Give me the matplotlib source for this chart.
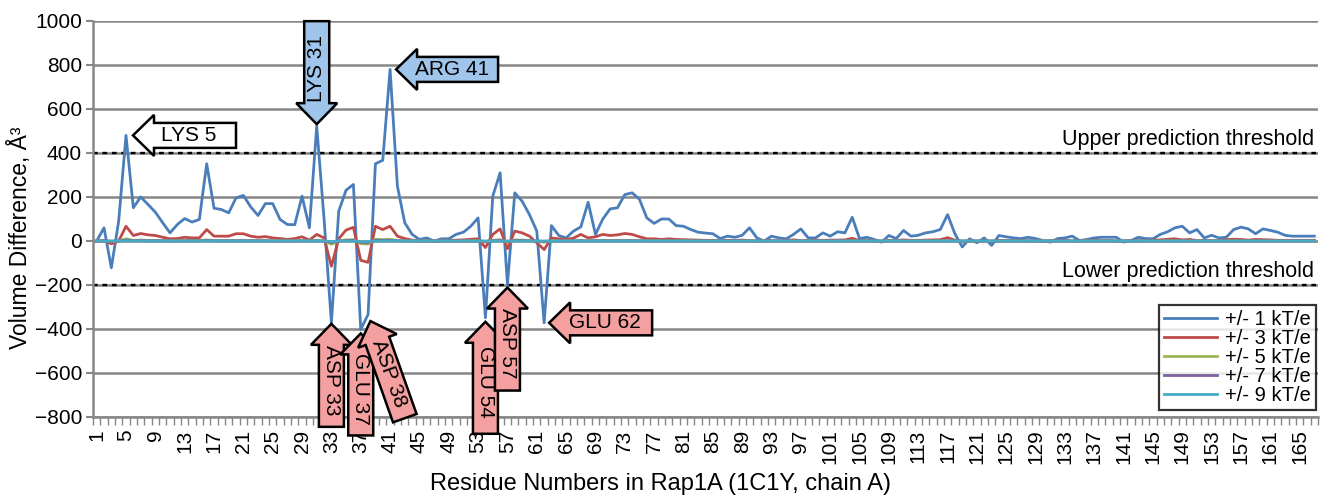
import numpy as np
import matplotlib
matplotlib.use("Agg")
import matplotlib.pyplot as plt
import matplotlib.transforms as mtransforms
from matplotlib.patches import Polygon

plt.rcParams['font.family'] = ['Liberation Sans', 'DejaVu Sans']

# residues 1..167
residues = np.arange(1, 168)

# volume differences (A^3) per residue, one series per potential threshold
kt1 = [0, 60, -122, 90, 480, 151, 200, 166, 131, 83, 37, 75, 102, 86, 98, 351, 149, 143, 128, 196,
       207, 155, 116, 170, 170, 98, 75, 74, 204, 60, 522, 100, -372, 136, 231, 257, -402, -334, 351, 367,
       780, 249, 83, 30, 7, 14, 0, 10, 10, 30, 40, 67, 105, -349, 204, 310, -198, 219, 181, 120,
       45, -372, 70, 25, 14, 45, 64, 176, 30, 100, 146, 151, 211, 219, 189, 105, 80, 100, 100, 70,
       67, 52, 40, 36, 33, 11, 22, 17, 26, 60, 14, 0, 22, 14, 10, 30, 55, 14, 14, 37,
       22, 42, 37, 108, 11, 17, 7, -5, 25, 11, 48, 22, 26, 37, 42, 52, 120, 33, -27, 10,
       -8, 14, -20, 25, 19, 14, 11, 17, 11, 2, -5, 11, 14, 22, 2, 7, 14, 17, 17, 17,
       -5, 2, 17, 11, 10, 30, 42, 60, 67, 37, 52, 14, 26, 14, 17, 52, 63, 55, 33, 55,
       48, 40, 26, 22, 22, 22, 22]
kt3 = [0, 2, -13, 0, 67, 25, 34, 28, 25, 17, 10, 11, 17, 14, 14, 52, 22, 22, 22, 33,
       33, 22, 17, 20, 14, 11, 7, 11, 19, 4, 30, 14, -115, 10, 50, 62, -88, -97, 67, 52,
       67, 22, 11, 4, 0, 2, -3, 2, 2, 4, 5, 8, 10, -30, 30, 55, -35, 45, 37, 22,
       -8, -39, 14, 10, 7, 13, 30, 14, 19, 30, 25, 28, 34, 30, 19, 10, 10, 7, 10, 7,
       6, 5, 4, 3, 3, 2, 3, 3, 4, 2, 0, 2, 2, 1, 3, 5, 2, 2, 4, 3,
       4, 4, 5, 12, 2, 2, 0, -2, 3, 2, 5, 3, 3, 4, 5, 6, 15, 4, -4, 1,
       -2, 2, -3, 3, 2, 2, 2, 1, 0, -1, 1, 2, 3, 0, 1, 2, 2, 2, 2, -1,
       0, 2, 1, 1, 4, 5, 8, 10, 5, 7, 2, 3, 2, 2, 6, 8, 7, 4, 7, 6,
       5, 3, 3, 3, 3, 3, 3]
kt5 = [0, 0, -2, 0, 10, 3, 4, 3, 3, 2, 1, 1, 2, 2, 2, 5, 2, 2, 2, 3,
       3, 2, 2, 2, 1, 1, 1, 1, 2, 0, 3, 1, -15, 1, 5, 6, -12, -14, 8, 6,
       8, 2, 1, 0, 0, 0, 0, 0, 0, 0, 0, 1, 1, -4, 3, 6, -5, 5, 4, 2,
       -1, -5, 1, 1, 1, 1, 3, 1, 2, 3, 2, 3, 3, 3, 2, 1, 1, 1, 1, 1,
       1, 0, 0, 0, 0, 0, 0, 0, 0, 0, 0, 0, 0, 0, 0, 0, 0, 0, 0, 0,
       0, 0, 0, 1, 0, 0, 0, 0, 0, 0, 0, 0, 0, 0, 0, 0, 1, 0, 0, 0,
       0, 0, 0, 0, 0, 0, 0, 0, 0, 0, 0, 0, 0, 0, 0, 0, 0, 0, 0, 0,
       0, 0, 0, 0, 0, 0, 1, 1, 0, 0, 0, 0, 0, 0, 0, 1, 0, 0, 0, 0,
       0, 0, 0, 0, 0, 0, 0]
kt7 = [0, 0, -1, 0, 4, 1, 2, 1, 1, 1, 0, 0, 1, 1, 1, 2, 1, 1, 1, 1,
       1, 1, 1, 1, 0, 0, 0, 0, 1, 0, 1, 0, -7, 0, 2, 3, -6, -7, 3, 3,
       3, 1, 0, 0, 0, 0, 0, 0, 0, 0, 0, 0, 0, -2, 1, 3, -2, 2, 2, 1,
       0, -2, 0, 0, 0, 0, 1, 0, 1, 1, 1, 1, 1, 1, 1, 0, 0, 0, 0, 0,
       0, 0, 0, 0, 0, 0, 0, 0, 0, 0, 0, 0, 0, 0, 0, 0, 0, 0, 0, 0,
       0, 0, 0, 0, 0, 0, 0, 0, 0, 0, 0, 0, 0, 0, 0, 0, 0, 0, 0, 0,
       0, 0, 0, 0, 0, 0, 0, 0, 0, 0, 0, 0, 0, 0, 0, 0, 0, 0, 0, 0,
       0, 0, 0, 0, 0, 0, 0, 0, 0, 0, 0, 0, 0, 0, 0, 0, 0, 0, 0, 0,
       0, 0, 0, 0, 0, 0, 0]
kt9 = [0, 0, 0, 0, 1, 0, 0, 0, 0, 0, 0, 0, 0, 0, 0, 0, 0, 0, 0, 0,
       0, 0, 0, 0, 0, 0, 0, 0, 0, 0, 0, 0, -3, 0, 0, 0, -3, -3, 0, 0,
       1, 0, 0, 0, 0, 0, 0, 0, 0, 0, 0, 0, 0, 0, 0, 0, 0, 0, 0, 0,
       0, 0, 0, 0, 0, 0, 0, 0, 0, 0, 0, 0, 0, 0, 0, 0, 0, 0, 0, 0,
       0, 0, 0, 0, 0, 0, 0, 0, 0, 0, 0, 0, 0, 0, 0, 0, 0, 0, 0, 0,
       0, 0, 0, 0, 0, 0, 0, 0, 0, 0, 0, 0, 0, 0, 0, 0, 0, 0, 0, 0,
       0, 0, 0, 0, 0, 0, 0, 0, 0, 0, 0, 0, 0, 0, 0, 0, 0, 0, 0, 0,
       0, 0, 0, 0, 0, 0, 0, 0, 0, 0, 0, 0, 0, 0, 0, 0, 0, 0, 0, 0,
       0, 0, 0, 0, 0, 0, 0]

series_labels = ['+/- 1 kT/e', '+/- 3 kT/e', '+/- 5 kT/e', '+/- 7 kT/e', '+/- 9 kT/e']
series_colors = ['#4A7EBB', '#BE4B48', '#98B954', '#7D60A0', '#46AAC5']

upper_threshold = 400
lower_threshold = -200

# callouts: (residue, label, direction angle, colour, length px, gap px)
callouts = [
    (5, 'LYS 5', 0, 'white', 103, 7),
    (31, 'LYS 31', 90, '#9FC5EA', 103, 2),
    (41, 'ARG 41', 0, '#9FC5EA', 102, 6),
    (33, 'ASP 33', -90, '#F4A0A0', 103, 1),
    (37, 'GLU 37', -90, '#F4A0A0', 102, 4),
    (38, 'ASP 38', -70.5, '#F4A0A0', 103, 7),
    (54, 'GLU 54', -90, '#F4A0A0', 112, 4),
    (57, 'ASP 57', -90, '#F4A0A0', 103, 3),
    (62, 'GLU 62', 0, '#F4A0A0', 103, 5),
]

W, H = 1324, 497
fig = plt.figure(figsize=(W / 100, H / 100), dpi=100)
ax = fig.add_axes([93 / W, 1 - 417 / H, (1318 - 93) / W, (417 - 21) / H])

gridc = '#878787'
for vals, lab, col in zip([kt1, kt3, kt5, kt7, kt9], series_labels, series_colors):
    ax.plot(residues, vals, color=col, lw=2.0, label=lab, zorder=3)

ax.axhline(upper_threshold, color='black', lw=1.7, ls=(0, (2, 2)), zorder=2.5)
ax.axhline(lower_threshold, color='black', lw=1.7, ls=(0, (2, 2)), zorder=2.5)
tr = mtransforms.blended_transform_factory(ax.transAxes, ax.transData)
ax.text(0.9965, upper_threshold + 12, 'Upper prediction threshold', transform=tr,
        ha='right', va='bottom', fontsize=15.5)
ax.text(0.9965, lower_threshold + 12, 'Lower prediction threshold', transform=tr,
        ha='right', va='bottom', fontsize=15.5)

ax.set_xlim(0.5, 167.5)
ax.set_ylim(-800, 1000)
ax.set_yticks(np.arange(-800, 1001, 200))
ax.yaxis.grid(True, color=gridc, lw=1.8)
ax.set_axisbelow(True)
ax.set_xticks(residues[::4])
ax.set_xticklabels([str(r) for r in residues[::4]], rotation=90)
ax.set_xticks(np.arange(0.5, 168, 1), minor=True)
ax.tick_params(axis='x', which='major', length=0, pad=9, labelsize=15)
ax.tick_params(axis='x', which='minor', length=6, color=gridc, width=1)
ax.tick_params(axis='y', length=5, color=gridc, width=1.5, pad=3, labelsize=15)
for s in ['top', 'right']:
    ax.spines[s].set_visible(False)
for s in ['left', 'bottom']:
    ax.spines[s].set_color(gridc)
    ax.spines[s].set_linewidth(1.8)

leg = ax.legend(loc='lower right', bbox_to_anchor=(0.998, 0.018), fontsize=14.5,
                frameon=True, fancybox=False, edgecolor='black', borderaxespad=0,
                handlelength=2.6, handletextpad=0.4, labelspacing=0.0, borderpad=0.25)
leg.get_frame().set_linewidth(1.6)
leg.set_zorder(6)

fig.text(660 / W, 1 - 484 / H, 'Residue Numbers in Rap1A (1C1Y, chain A)',
         ha='center', va='center', fontsize=17)
fig.text(20 / W, 1 - 238 / H, 'Volume Difference, Å³', rotation=90,
         ha='center', va='center', fontsize=16.5)

# block-arrow callouts, shape in pixels pointing left with tip at origin
hl, hw, sw = 21, 20.5, 12.5
for res, lab, ang, fc, length, gap in callouts:
    yv = kt1[res - 1]
    verts = np.array([[0, 0], [hl, hw], [hl, sw], [length, sw], [length, -sw],
                      [hl, -sw], [hl, -hw]], dtype=float)
    verts[:, 0] += gap
    trans = (mtransforms.Affine2D().scale(1 / 100).rotate_deg(ang) + fig.dpi_scale_trans
             + mtransforms.ScaledTranslation(res, yv, ax.transData))
    poly = Polygon(verts, closed=True, facecolor=fc, edgecolor='black', lw=1.8,
                   transform=trans, clip_on=False, zorder=7)
    ax.add_artist(poly)
    c = gap + (hl + length) / 2 - 6
    a = np.deg2rad(ang)
    ax.annotate(lab, xy=(res, yv), xytext=(c * np.cos(a) * 0.72, c * np.sin(a) * 0.72),
                textcoords='offset points', rotation=ang, rotation_mode='anchor',
                ha='center', va='center', fontsize=15, zorder=8, annotation_clip=False)

fig.savefig('out.png', dpi=100)
